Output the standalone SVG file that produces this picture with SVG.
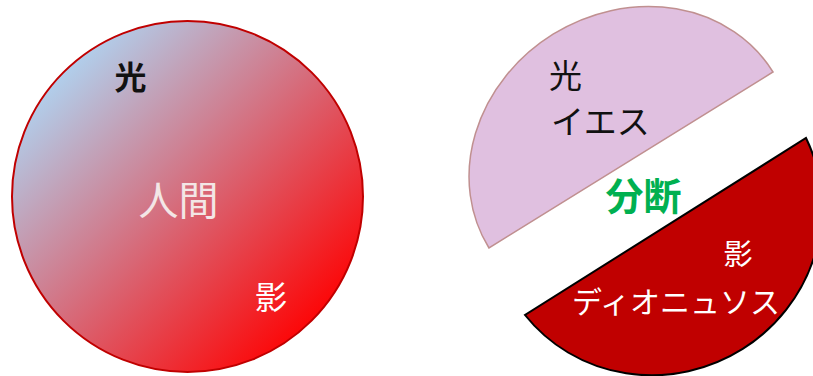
<svg xmlns="http://www.w3.org/2000/svg" width="813" height="376" viewBox="0 0 813 376">
<style>
text{font-family:"Noto Sans CJK JP","Noto Sans CJK SC",sans-serif}
.c{text-anchor:middle}
</style>
<defs>
<linearGradient id="g" x1="0.12" y1="0.12" x2="0.88" y2="0.88">
<stop offset="0" stop-color="#aed6f4"/>
<stop offset="1" stop-color="#ff0000"/>
</linearGradient>
</defs>
<rect width="813" height="376" fill="#fff"/>
<g id="human">
<circle cx="187.5" cy="196.5" r="175.5" fill="url(#g)" stroke="#c00000" stroke-width="2"/>
<text x="130.5" y="89" class="c" font-size="32" font-weight="bold" fill="#111">光</text>
<text x="178.5" y="215" class="c" font-size="40" fill="#f3e6e6">人間</text>
<text x="271" y="309" class="c" font-size="32" fill="#fff">影</text>
</g>
<g id="light">
<path d="M489 248 A167 148 -31.8 0 1 773 72 Z" fill="#e0c0e0" stroke="#c09090" stroke-width="1.5"/>
<text x="549" y="88" font-size="33" fill="#111">光</text>
<text x="551" y="134" font-size="33" fill="#111">イエス</text>
</g>
<g id="shadow">
<path d="M806 138 A167 162 -31.8 0 1 525 315 Z" fill="#c00000" stroke="#000" stroke-width="2"/>
<text x="738" y="265" class="c" font-size="29" fill="#fff">影</text>
<text x="676" y="313" class="c" font-size="30" fill="#fff">ディオニュソス</text>
</g>
<g id="split">
<text x="643.5" y="210" class="c" font-size="38" font-weight="bold" fill="#00b050">分断</text>
</g>
</svg>
